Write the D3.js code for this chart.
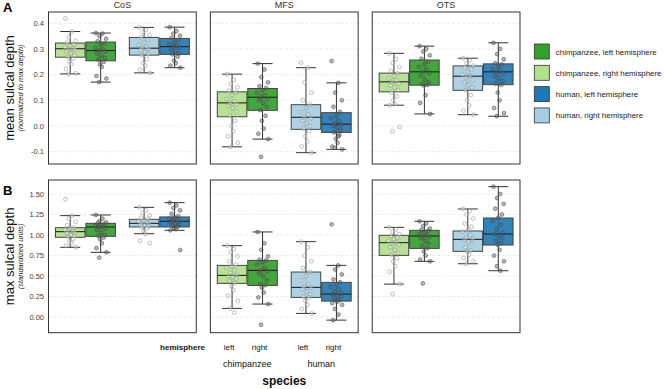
<!DOCTYPE html>
<html>
<head>
  <meta charset='utf-8'>
  <script type="text/javascript" src="https://cdn.jsdelivr.net/npm/d3@7"></script>
  <style type="text/css">
    body { margin: 0; background: #fff; }
    text { font-family: "Liberation Sans", Arial, sans-serif; }
  </style>
</head>
<body>
</body>
<script type="text/javascript">
  let w = 669;
  let h = 389;

  // categories
  const regions = ["CoS", "MFS", "OTS"];
  const species = ["chimpanzee", "human"];
  const hemis = ["left", "right"];
  const colors = ["#b2df8a", "#33a02c", "#a6cee3", "#1f78b4"]; // chimp L, chimp R, human L, human R (as drawn)
  const legendLabels = ["chimpanzee, left hemisphere", "chimpanzee, right hemisphere",
    "human, left hemisphere", "human, right hemisphere"];
  const legendColors = ["#33a02c", "#b2df8a", "#1f78b4", "#a6cee3"];

  const ticksMean = [-0.1, 0.0, 0.1, 0.2, 0.3, 0.4];
  const ticksMax = [0.00, 0.25, 0.50, 0.75, 1.00, 1.25, 1.50];

  // box stats: [lower whisker, q1, median, q3, upper whisker], per region, per box
  const meanStats = [
    [[0.203, 0.268, 0.301, 0.323, 0.368], [0.171, 0.254, 0.294, 0.327, 0.362], [0.207, 0.276, 0.303, 0.345, 0.384], [0.227, 0.279, 0.309, 0.341, 0.385]],
    [[-0.081, 0.036, 0.090, 0.133, 0.202], [-0.051, 0.061, 0.112, 0.146, 0.243], [-0.104, -0.013, 0.034, 0.083, 0.227], [-0.091, -0.025, 0.007, 0.052, 0.168]],
    [[0.081, 0.133, 0.172, 0.206, 0.283], [0.047, 0.159, 0.211, 0.257, 0.311], [0.044, 0.139, 0.194, 0.234, 0.264], [0.038, 0.161, 0.211, 0.242, 0.324]]
  ];
  const maxStats = [
    [[0.850, 0.972, 1.041, 1.089, 1.236], [0.789, 0.984, 1.098, 1.142, 1.244], [1.016, 1.098, 1.142, 1.191, 1.337], [1.057, 1.098, 1.167, 1.220, 1.394]],
    [[0.106, 0.411, 0.508, 0.630, 0.870], [0.159, 0.386, 0.569, 0.691, 1.037], [0.045, 0.240, 0.362, 0.549, 0.919], [-0.037, 0.195, 0.280, 0.423, 0.630]],
    [[0.402, 0.752, 0.907, 0.996, 1.093], [0.679, 0.837, 0.988, 1.057, 1.167], [0.650, 0.801, 0.947, 1.049, 1.317], [0.565, 0.878, 1.012, 1.207, 1.589]]
  ];

  // individual subjects
  const meanPts = [
    [
      [0.419, 0.368, 0.345, 0.332, 0.325, 0.318, 0.312, 0.306, 0.302, 0.300, 0.297, 0.29, 0.283, 0.275, 0.27, 0.262, 0.25, 0.24, 0.222, 0.205, 0.203],
      [0.362, 0.36, 0.35, 0.34, 0.33, 0.322, 0.315, 0.305, 0.298, 0.294, 0.29, 0.283, 0.275, 0.265, 0.258, 0.25, 0.24, 0.23, 0.195, 0.185, 0.171],
      [0.384, 0.375, 0.365, 0.355, 0.345, 0.335, 0.325, 0.315, 0.308, 0.303, 0.3, 0.295, 0.288, 0.28, 0.276, 0.26, 0.245, 0.235, 0.22, 0.207],
      [0.385, 0.37, 0.36, 0.352, 0.343, 0.335, 0.325, 0.318, 0.312, 0.309, 0.305, 0.298, 0.29, 0.282, 0.279, 0.27, 0.255, 0.245, 0.235, 0.227]
    ],
    [
      [0.202, 0.18, 0.165, 0.15, 0.138, 0.13, 0.12, 0.105, 0.095, 0.09, 0.085, 0.078, 0.07, 0.055, 0.04, 0.02, 0.0, -0.02, -0.04, -0.065, -0.081],
      [0.243, 0.22, 0.19, 0.17, 0.155, 0.148, 0.14, 0.13, 0.12, 0.112, 0.105, 0.1, 0.09, 0.075, 0.062, 0.04, 0.02, -0.01, -0.03, -0.051, -0.12],
      [0.247, 0.227, 0.17, 0.13, 0.1, 0.085, 0.07, 0.055, 0.045, 0.035, 0.03, 0.02, 0.01, 0.0, -0.01, -0.02, -0.04, -0.06, -0.08, -0.104],
      [0.253, 0.168, 0.13, 0.1, 0.075, 0.055, 0.04, 0.03, 0.02, 0.01, 0.005, 0.0, -0.005, -0.015, -0.025, -0.035, -0.05, -0.065, -0.08, -0.091, -0.085, -0.04]
    ],
    [
      [0.283, 0.26, 0.245, 0.23, 0.215, 0.205, 0.195, 0.185, 0.178, 0.172, 0.165, 0.158, 0.15, 0.14, 0.13, 0.115, 0.1, 0.085, 0.081, -0.004, -0.021],
      [0.311, 0.3, 0.29, 0.275, 0.262, 0.25, 0.24, 0.23, 0.22, 0.212, 0.205, 0.195, 0.18, 0.17, 0.163, 0.16, 0.158, 0.12, 0.09, 0.047],
      [0.264, 0.255, 0.245, 0.235, 0.228, 0.22, 0.21, 0.2, 0.195, 0.19, 0.18, 0.17, 0.16, 0.15, 0.14, 0.12, 0.1, 0.08, 0.06, 0.044],
      [0.324, 0.3, 0.28, 0.26, 0.245, 0.24, 0.23, 0.222, 0.215, 0.21, 0.205, 0.195, 0.185, 0.175, 0.165, 0.16, 0.13, 0.1, 0.07, 0.05, 0.038]
    ]
  ];
  const maxPts = [
    [
      [1.435, 1.236, 1.2, 1.16, 1.12, 1.09, 1.08, 1.065, 1.05, 1.04, 1.03, 1.02, 1.0, 0.985, 0.975, 0.95, 0.92, 0.9, 0.87, 0.85],
      [1.244, 1.2, 1.17, 1.155, 1.145, 1.135, 1.12, 1.11, 1.1, 1.095, 1.08, 1.06, 1.03, 1.0, 0.99, 0.97, 0.95, 0.9, 0.84, 0.789, 0.724],
      [1.337, 1.3, 1.27, 1.24, 1.21, 1.195, 1.18, 1.165, 1.15, 1.142, 1.135, 1.125, 1.115, 1.105, 1.1, 1.08, 1.05, 1.016, 0.93, 0.9],
      [1.394, 1.36, 1.33, 1.3, 1.26, 1.23, 1.215, 1.2, 1.185, 1.17, 1.165, 1.155, 1.14, 1.125, 1.11, 1.1, 1.085, 1.07, 1.057, 0.817]
    ],
    [
      [0.87, 0.83, 0.79, 0.74, 0.68, 0.64, 0.62, 0.6, 0.57, 0.54, 0.51, 0.5, 0.49, 0.47, 0.44, 0.415, 0.38, 0.33, 0.26, 0.2, 0.106, 0.053],
      [1.037, 0.9, 0.82, 0.74, 0.7, 0.69, 0.67, 0.64, 0.6, 0.57, 0.56, 0.53, 0.5, 0.45, 0.4, 0.39, 0.36, 0.3, 0.24, 0.159, -0.093],
      [0.919, 0.85, 0.75, 0.68, 0.6, 0.55, 0.5, 0.45, 0.4, 0.37, 0.36, 0.34, 0.31, 0.28, 0.25, 0.24, 0.2, 0.15, 0.1, 0.045],
      [1.13, 0.63, 0.58, 0.52, 0.46, 0.425, 0.4, 0.37, 0.34, 0.31, 0.29, 0.28, 0.27, 0.25, 0.23, 0.21, 0.2, 0.19, 0.17, 0.15, 0.1, 0.03, -0.037]
    ],
    [
      [1.093, 1.07, 1.04, 1.01, 0.99, 0.97, 0.95, 0.93, 0.91, 0.9, 0.88, 0.85, 0.82, 0.78, 0.755, 0.72, 0.68, 0.62, 0.55, 0.402, 0.28],
      [1.167, 1.14, 1.11, 1.08, 1.06, 1.05, 1.03, 1.01, 0.995, 0.988, 0.975, 0.96, 0.93, 0.9, 0.87, 0.84, 0.8, 0.75, 0.7, 0.679, 0.41],
      [1.317, 1.29, 1.25, 1.2, 1.14, 1.1, 1.06, 1.04, 1.0, 0.97, 0.95, 0.94, 0.92, 0.89, 0.85, 0.81, 0.8, 0.76, 0.72, 0.68, 0.65],
      [1.589, 1.5, 1.45, 1.38, 1.32, 1.25, 1.21, 1.17, 1.12, 1.07, 1.03, 1.01, 0.99, 0.96, 0.93, 0.9, 0.88, 0.82, 0.75, 0.68, 0.62, 0.565]
    ]
  ];

  // fixed horizontal jitter pattern (fraction of jitter width)
  const jit = [-0.8, 0.3, -0.2, 0.9, -0.5, 0.6, 0.0, -0.9, 0.4, -0.3, 0.8, -0.6, 0.1, 0.7, -0.4, 0.5, -0.1, 0.2, -0.7, 0.95, -0.25, 0.35, -0.55];

  var svg = d3.select("body")
    .append("svg")
    .attr("width", w)
    .attr("height", h);

  let xPanel = d3.scaleBand().domain(regions).range([48.5, 520]).paddingInner(0.087);
  let pw = xPanel.bandwidth();
  let xSpecies = d3.scalePoint().domain(species).range([0, pw]).padding(0.5);
  let xHemi = d3.scaleBand().domain(hemis).range([-30, 30]).paddingInner(0.03);
  let bw = xHemi.bandwidth();

  let rows = [
    { y: d3.scaleLinear().domain([-0.148, 0.444]).range([164, 12]), ticks: ticksMean, fmt: d3.format(".1f"),
      stats: meanStats, pts: meanPts, letter: "A", letterY: 12, title: "mean sulcal depth", sub: "(normalized to max depth)" },
    { y: d3.scaleLinear().domain([-0.19, 1.67]).range([332.7, 180]), ticks: ticksMax, fmt: d3.format(".2f"),
      stats: maxStats, pts: maxPts, letter: "B", letterY: 195, title: "max sulcal depth", sub: "(standardized units)" }
  ];

  rows.forEach((row, ri) => {
    let y = row.y;
    let [y1, y0] = y.range(); // y1 bottom, y0 top
    let mid = (y0 + y1) / 2;

    // row letter
    svg.append("text").attr("x", 3).attr("y", row.letterY)
      .attr("font-size", 13).attr("font-weight", "bold").text(row.letter);

    // y titles
    svg.append("text").attr("transform", `translate(13.5,${mid}) rotate(-90)`)
      .attr("text-anchor", "middle").attr("font-size", 13).attr("fill", "#111").text(row.title);
    svg.append("text").attr("transform", `translate(23,${mid}) rotate(-90)`)
      .attr("text-anchor", "middle").attr("font-size", 7.5).attr("font-style", "italic").attr("fill", "#222").text(row.sub);

    // tick labels
    svg.selectAll(null).data(row.ticks).enter().append("text")
      .attr("x", 44).attr("y", d => y(d) + 2.8)
      .attr("text-anchor", "end").attr("font-size", 7.5).attr("fill", "#444")
      .text(d => row.fmt(d).replace("\u2212", "-"));

    regions.forEach((reg, pi) => {
      let px = xPanel(reg);
      let g = svg.append("g").attr("transform", `translate(${px},0)`);

      // grid
      g.selectAll("line.grid").data(row.ticks).enter().append("line")
        .attr("x1", 0).attr("x2", pw).attr("y1", d => y(d)).attr("y2", d => y(d))
        .attr("stroke", "#e4e4e4").attr("stroke-width", 0.8).attr("stroke-dasharray", "3,2");

      // strip title
      if (ri == 0) {
        svg.append("text").attr("x", px + pw / 2).attr("y", 8)
          .attr("text-anchor", "middle").attr("font-size", 9).attr("fill", "#333").text(reg);
      }

      for (let k = 0; k < 4; k++) {
        let sp = species[Math.floor(k / 2)];
        let hm = hemis[k % 2];
        let cx = xSpecies(sp) + xHemi(hm) + bw / 2;
        let s = row.stats[pi][k];
        let capW = 20;
        let bg = g.append("g");
        // whiskers
        bg.append("line").attr("x1", cx).attr("x2", cx).attr("y1", y(s[0])).attr("y2", y(s[4]))
          .attr("stroke", "#333").attr("stroke-width", 1);
        [s[0], s[4]].forEach(v => {
          bg.append("line").attr("x1", cx - capW / 2).attr("x2", cx + capW / 2).attr("y1", y(v)).attr("y2", y(v))
            .attr("stroke", "#333").attr("stroke-width", 1);
        });
        // box
        bg.append("rect").attr("x", cx - bw / 2).attr("width", bw)
          .attr("y", y(s[3])).attr("height", y(s[1]) - y(s[3]))
          .attr("fill", colors[k]).attr("fill-opacity", 0.92)
          .attr("stroke", "#444").attr("stroke-width", 1);
        bg.append("line").attr("x1", cx - bw / 2).attr("x2", cx + bw / 2).attr("y1", y(s[2])).attr("y2", y(s[2]))
          .attr("stroke", "#222").attr("stroke-width", 1.1);
        // points
        let dark = k % 2 == 1;
        bg.selectAll("circle").data(row.pts[pi][k]).enter().append("circle")
          .attr("cx", (d, i) => cx + jit[i % jit.length] * 6)
          .attr("cy", d => y(d))
          .attr("r", 1.9)
          .attr("fill", dark ? "#666" : "#fff")
          .attr("fill-opacity", dark ? 0.45 : 0.35)
          .attr("stroke", dark ? "#444" : "#888")
          .attr("stroke-opacity", 0.75)
          .attr("stroke-width", 0.7);
      }

      // panel border
      g.append("rect").attr("x", 0).attr("y", y0).attr("width", pw).attr("height", y1 - y0)
        .attr("fill", "none").attr("stroke", "#333").attr("stroke-width", 1);
    });
  });

  // x axis labels (under middle panel)
  let mx = xPanel("MFS");
  svg.append("text").attr("x", 205).attr("y", 350).attr("text-anchor", "end")
    .attr("font-size", 8).attr("font-weight", "bold").attr("fill", "#111").text("hemisphere");
  species.forEach(sp => {
    hemis.forEach(hm => {
      svg.append("text").attr("x", mx + xSpecies(sp) + xHemi(hm) + bw / 2 - 3).attr("y", 350)
        .attr("text-anchor", "middle").attr("font-size", 8).attr("fill", "#111").text(hm);
    });
    svg.append("text").attr("x", mx + xSpecies(sp)).attr("y", 366.5)
      .attr("text-anchor", "middle").attr("font-size", 9).attr("fill", "#111").text(sp);
  });
  svg.append("text").attr("x", mx + pw / 2).attr("y", 385).attr("text-anchor", "middle")
    .attr("font-size", 12).attr("font-weight", "bold").attr("fill", "#111").text("species");

  // legend
  let lg = svg.append("g").attr("transform", "translate(534.3,44)");
  legendLabels.forEach((lab, i) => {
    lg.append("rect").attr("x", 0).attr("y", i * 21.3).attr("width", 15).attr("height", 15)
      .attr("fill", legendColors[i]).attr("stroke", "#333").attr("stroke-width", 0.8);
    lg.append("text").attr("x", 21.5).attr("y", i * 21.3 + 10.5)
      .attr("font-size", 7.9).attr("fill", "#222").text(lab);
  });
</script>
</html>
